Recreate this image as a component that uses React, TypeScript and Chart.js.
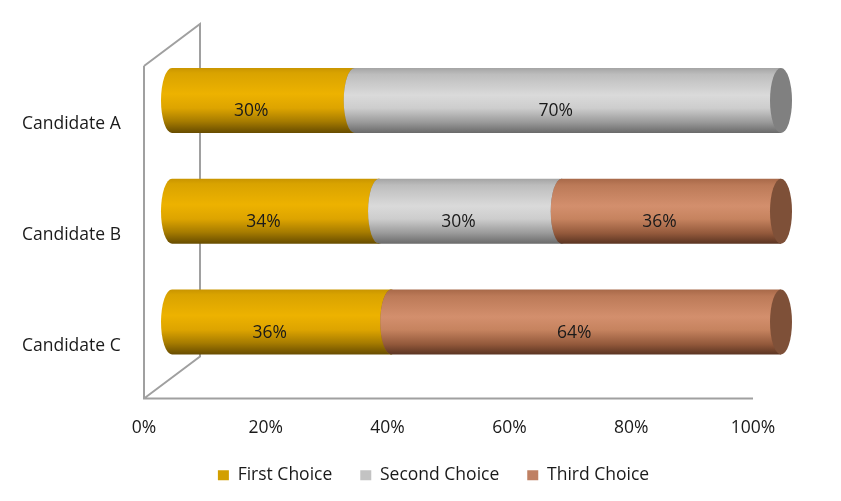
import React, { useEffect, useRef } from "react";
import { Chart, registerables } from "chart.js";

Chart.register(...registerables);

const categories = ["Candidate A", "Candidate B", "Candidate C"];
const seriesNames = ["First Choice", "Second Choice", "Third Choice"];
const firstChoice = [30, 34, 36];
const secondChoice = [70, 30, 0];
const thirdChoice = [0, 36, 64];
const xTicks = [0, 20, 40, 60, 80, 100];

const FONT = "'Open Sans', 'Noto Sans', sans-serif";
const swatch = ["#D29F00", "#C3C3C3", "#BF8063"];
const bodyStops: [number, string][][] = [
  [
    [0, "#C99500"],
    [0.08, "#D9A300"],
    [0.4, "#EDB200"],
    [0.62, "#DDA400"],
    [0.82, "#A77C00"],
    [1, "#674C00"],
  ],
  [
    [0, "#A4A4A4"],
    [0.1, "#BDBDBD"],
    [0.42, "#DADADA"],
    [0.62, "#CDCDCD"],
    [0.84, "#999999"],
    [1, "#6A6A6A"],
  ],
  [
    [0, "#A86949"],
    [0.1, "#BC7A58"],
    [0.42, "#D38F6D"],
    [0.62, "#C6835F"],
    [0.84, "#93593B"],
    [1, "#5A3422"],
  ],
];
const capColor = ["#9A7300", "#808080", "#7E5038"];

const DX = 28;
const DY = 21;
const RX = 11;
const LEGEND_SHIFT = 32;

const cylinderPlugin = {
  id: "cylinders",
  afterLayout(chart: any) {
    const l = chart.legend;
    if (l) {
      l.left += LEGEND_SHIFT;
      l.right += LEGEND_SHIFT;
    }
  },
  beforeDatasetsDraw(chart: any) {
    const { ctx, chartArea } = chart;
    const { left, right, top, bottom } = chartArea;
    ctx.save();
    // 3D walls
    ctx.strokeStyle = "#A0A0A0";
    ctx.lineWidth = 2;
    ctx.beginPath();
    ctx.moveTo(left - DX, top + DY);
    ctx.lineTo(left - DX, bottom + DY);
    ctx.lineTo(right - DX, bottom + DY);
    ctx.moveTo(left - DX, top + DY);
    ctx.lineTo(left + DX, top - DY);
    ctx.lineTo(left + DX, bottom - DY);
    ctx.lineTo(left - DX, bottom + DY);
    ctx.stroke();

    const n = chart.data.datasets.length;
    const nCat = chart.data.labels.length;
    for (let c = 0; c < nCat; c++) {
      for (let d = 0; d < n; d++) {
        const meta = chart.getDatasetMeta(d);
        const el: any = meta.data[c];
        const v = chart.data.datasets[d].data[c];
        if (!el || !v) continue;
        const x0 = el.base;
        const x1 = el.x;
        const cy = el.y;
        const h = el.height;
        const t = cy - h / 2;
        const b = cy + h / 2;
        const g = ctx.createLinearGradient(0, t, 0, b);
        bodyStops[d].forEach(([o, col]) => g.addColorStop(o, col));
        ctx.beginPath();
        ctx.moveTo(x0, t);
        ctx.lineTo(x1, t);
        ctx.lineTo(x1, b);
        ctx.lineTo(x0, b);
        ctx.ellipse(x0, cy, RX, h / 2, 0, Math.PI / 2, Math.PI * 1.5, false);
        ctx.closePath();
        ctx.fillStyle = g;
        ctx.fill();
        ctx.beginPath();
        ctx.ellipse(x1, cy, RX, h / 2, 0, 0, Math.PI * 2);
        ctx.fillStyle = capColor[d];
        ctx.fill();
      }
    }
    // data labels
    ctx.fillStyle = "#1A1A1A";
    ctx.font = `17.5px ${FONT}`;
    ctx.textAlign = "center";
    ctx.textBaseline = "middle";
    for (let c = 0; c < nCat; c++) {
      for (let d = 0; d < n; d++) {
        const el: any = chart.getDatasetMeta(d).data[c];
        const v = chart.data.datasets[d].data[c];
        if (!el || !v) continue;
        ctx.fillText(`${v}%`, (el.base + el.x) / 2 - 12, el.y + 11);
      }
    }
    ctx.restore();
    return false;
  },
};

export default function App() {
  const ref = useRef<HTMLCanvasElement>(null);
  useEffect(() => {
    document.body.style.margin = "0";
    const chart = new Chart(ref.current!, {
      type: "bar",
      data: {
        labels: categories,
        datasets: [firstChoice, secondChoice, thirdChoice].map((arr, i) => ({
          label: seriesNames[i],
          data: arr,
          backgroundColor: swatch[i],
          borderWidth: 0,
          barThickness: 65,
        })),
      },
      options: {
        indexAxis: "y",
        responsive: false,
        animation: false,
        layout: { padding: { left: 22, right: 60, top: 45, bottom: 7 } },
        plugins: {
          legend: {
            position: "bottom",
            labels: {
              boxWidth: 11,
              boxHeight: 10,
              padding: 28,
              color: "#1A1A1A",
              font: { family: FONT, size: 17.5 },
            },
          },
          tooltip: { enabled: false },
        },
        scales: {
          x: {
            stacked: true,
            min: 0,
            max: 100,
            afterBuildTicks: (s: any) => {
              s.ticks = xTicks.map((v) => ({ value: v }));
            },
            afterFit: (s: any) => {
              s.height = 61;
            },
            grid: { display: false, drawTicks: false },
            border: { display: false },
            ticks: {
              labelOffset: -DX,
              padding: 37,
              color: "#1A1A1A",
              font: { family: FONT, size: 17.5, lineHeight: 1.6 },
              callback: (v: any) => `${v}%`,
            },
          },
          y: {
            stacked: true,
            afterFit: (s: any) => {
              s.width = 150;
            },
            grid: { display: false, drawTicks: false },
            border: { display: false },
            ticks: {
              crossAlign: "far",
              labelOffset: DY + 3,
              padding: 0,
              color: "#1A1A1A",
              font: { family: FONT, size: 17.5 },
            },
          },
        },
      },
      plugins: [cylinderPlugin],
    } as any);
    return () => chart.destroy();
  }, []);
  return (
    <canvas
      ref={ref}
      width={841}
      height={501}
      style={{ display: "block", width: 841, height: 501 }}
    />
  );
}
